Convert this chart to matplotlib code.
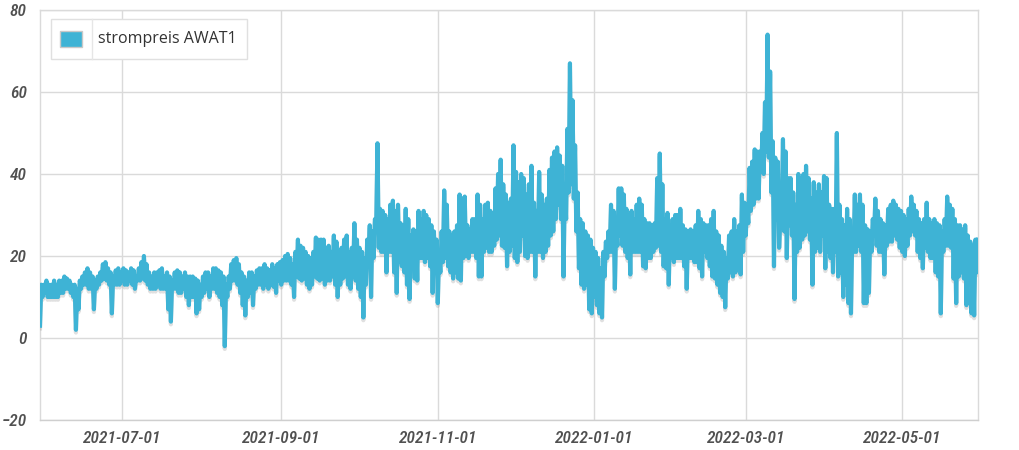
import numpy as np
import pandas as pd
import matplotlib
matplotlib.use("Agg")
import matplotlib.pyplot as plt
import matplotlib.dates as mdates
import matplotlib.patheffects as pe
from matplotlib.patches import Rectangle
from matplotlib import font_manager as fm

# Daily high / low of the price series (start 2021-05-30)
start_date = "2021-05-30"
daily_high = [
    13, 13, 14, 13, 13, 14, 13, 14, 14, 15, 14.5, 14, 13, 13, 12, 14, 15, 16, 17, 16,
    15, 14, 15, 16, 18, 18.5, 17, 16, 15, 16.5, 17, 16, 17, 16.5, 16, 17, 16.5, 15, 17, 18.5,
    20, 18, 16, 15, 16, 16, 16.5, 17, 15, 16, 15, 14, 16, 16.5, 16, 15, 16, 15, 15, 15,
    14.5, 14, 13, 15, 16, 16, 15, 17, 17, 16.5, 16, 15, 13, 15, 18, 19, 19.5, 18, 16, 15,
    14, 16, 16, 15, 16.5, 17, 17, 18, 17, 16.5, 18, 17, 18, 18.5, 19, 20, 20.5, 19.5, 18, 21,
    24, 22.5, 22, 21, 20, 19.5, 21, 24.5, 24, 24, 24, 22, 22.5, 21, 25, 23.5, 21, 22, 24, 25,
    21, 22, 28, 24, 22, 21, 19.5, 24, 27.5, 26, 29, 47.5, 31.5, 31, 30, 29, 32.5, 33.5, 31, 32.5,
    28, 27.5, 31.5, 29, 25, 26.5, 26, 31, 29, 31, 30, 29, 27.5, 26, 24, 21, 26, 36, 32.5, 26,
    25, 26, 27.5, 35, 34, 34.5, 27.5, 26.5, 29, 29, 35, 32.5, 29, 32.5, 33, 31, 27.5, 36.5, 40, 43.5,
    37.5, 35, 33, 34, 47, 40.5, 38, 40, 39, 35, 37.5, 42, 33, 31, 40.5, 35, 32.5, 34, 41, 44,
    45.5, 46.5, 44.5, 42, 37.5, 51, 67, 58, 47, 35.5, 29, 28, 26, 25, 24, 22, 21, 19.5, 17, 21,
    23.5, 26, 32.5, 31, 27.5, 36.5, 36.5, 35, 31.5, 30, 31, 29, 32.5, 34, 32.5, 29, 28, 28, 27.5, 28,
    39, 45, 37.5, 29, 30.5, 27.5, 29, 30, 30, 31.5, 27.5, 26.5, 26, 26.5, 26, 27.5, 31, 29, 28, 27.5,
    27.5, 29, 31, 26, 25, 22.5, 21, 19.5, 25, 26, 29, 26, 27.5, 35, 33, 32.5, 41.5, 43, 46, 45.5,
    45.5, 50, 57.5, 74, 65, 48, 44, 43, 29, 48.5, 45.5, 39, 39, 35.5, 32.5, 40, 39, 40, 42, 39,
    34, 38, 35.5, 37.5, 35.5, 39.5, 39, 32.5, 31.5, 31.5, 50, 32.5, 29, 27.5, 31.5, 29, 25, 35, 32.5, 35,
    32.5, 27.5, 26.5, 26, 29, 34, 31, 29, 28, 27.5, 31.5, 32.5, 33.5, 32.5, 31.5, 31, 30, 29, 31.5, 34.5,
    32.5, 31, 29, 28, 29, 33, 29, 28, 29, 28, 27.5, 26, 29, 34.5, 32.5, 31.5, 29, 27.5, 27.5, 26.5,
    27.5, 25, 23.5, 22.5, 24, 24,
]
daily_low = [
    3, 10, 11, 10, 10, 10, 10, 10, 11, 11, 12, 12, 11, 10, 2, 7, 12, 13, 13, 12,
    12, 7, 12, 13, 14, 14.5, 14, 13, 6, 13, 13, 13, 14, 13, 13, 14, 13, 12, 14, 14,
    14.5, 14, 13, 12, 12, 12, 13, 12, 12, 12, 7, 4, 12, 12, 11, 11, 12, 10, 8, 10,
    10, 6, 7, 10, 11, 12, 10, 12, 12, 11, 10, 8, -2, 10, 12, 14, 14, 13, 11, 8,
    5.5, 10, 11, 8, 12, 13, 13, 12, 13, 12, 13, 12.5, 11, 14, 13, 14, 14, 14, 13, 10,
    15, 14.5, 14, 14.5, 13, 12, 13, 15, 14.5, 14, 14.5, 13, 14, 14, 15, 13, 10, 13, 14.5, 15,
    13, 12, 15, 14, 12, 10, 5, 13, 19.5, 10, 19.5, 27.5, 22, 21, 21, 16, 21, 21, 16, 11,
    18.5, 17.5, 16, 13, 9.5, 19.5, 14.5, 14, 19.5, 19.5, 18.5, 19.5, 17.5, 11, 16, 8.5, 16, 18.5, 19.5, 17.5,
    16, 14.5, 16, 14.5, 14, 19.5, 20, 19.5, 21, 21, 19.5, 15, 15, 21, 22, 21, 21, 22.5, 24, 25,
    22.5, 22, 17.5, 21, 22.5, 19.5, 18.5, 21, 25, 20, 19.5, 21, 21, 15, 21, 21, 19.5, 21, 22.5, 25,
    26, 29, 32.5, 29, 15, 29, 35.5, 37.5, 34, 26, 17, 13, 12, 13, 7, 6, 10, 8, 6, 5,
    15, 19.5, 21, 21, 12, 22.5, 25, 22.5, 21, 19.5, 15.5, 21, 21, 21, 21, 17.5, 17, 19.5, 19.5, 21,
    22, 22.5, 21, 17.5, 17, 13, 19.5, 18.5, 19.5, 19.5, 19.5, 17.5, 12, 19.5, 19.5, 18.5, 18.5, 17, 15, 21,
    19.5, 17.5, 15, 14.5, 13, 11, 10, 7.5, 14.5, 16, 15, 16, 17.5, 15.5, 21, 25, 28, 31, 32.5, 34,
    34, 40.5, 40, 45.5, 44, 35.5, 17.5, 29, 22, 29, 26, 19.5, 27.5, 25, 9.5, 21, 22, 24, 25, 26,
    24, 13, 21, 22, 21, 25, 17, 21, 19.5, 16, 21, 15, 16, 10, 13, 8.5, 6, 21, 21, 22.5,
    21, 8.5, 8.5, 11, 21, 25, 22.5, 21, 21, 15.5, 22.5, 23.5, 23.5, 25, 24, 22, 21, 20, 22.5, 25,
    26, 25, 21, 19.5, 17, 22, 21, 19.5, 19.5, 16, 15, 6, 21, 22.5, 22.5, 22, 14.5, 8.5, 15, 16,
    14.5, 8, 13, 6, 5.5, 16,
]
series_label = "strompreis AWAT1"
y_ticks = [-20, 0, 20, 40, 60, 80]
x_ticks = ["2021-07-01", "2021-09-01", "2021-11-01", "2022-01-01", "2022-03-01", "2022-05-01"]

n = min(len(daily_high), len(daily_low))
days = pd.date_range(start_date, periods=n, freq="D")
times, values = [], []
for i in range(n):
    times.append(days[i])
    values.append(daily_low[i])
    times.append(days[i] + pd.Timedelta(hours=12))
    values.append(daily_high[i])

line_color = "#3EB3D5"
grid_color = "#DADADA"

names = {f.name for f in fm.fontManager.ttflist}
tick_family = [f for f in ["Roboto Condensed", "DejaVu Sans Condensed", "Liberation Sans Narrow"] if f in names] + ["DejaVu Sans"]

fig = plt.figure(figsize=(10.2, 4.5), dpi=100)
ax = fig.add_axes([40 / 1020, 1 - 420 / 450, 938 / 1020, 410 / 450])

ax.plot(times, values, color=line_color, lw=3.0, solid_joinstyle="round",
        path_effects=[pe.SimpleLineShadow(offset=(0, -2), shadow_color="#9a9a9a", alpha=0.3),
                      pe.Normal()], zorder=3)

ax.set_ylim(-20, 80)
ax.set_xlim(times[0], times[-1])
ax.set_yticks(y_ticks)
ax.set_xticks(pd.to_datetime(x_ticks))
ax.xaxis.set_major_formatter(mdates.DateFormatter("%Y-%m-%d"))
ax.grid(True, color=grid_color, lw=1.0, zorder=0)
for s in ax.spines.values():
    s.set_color(grid_color)
    s.set_linewidth(1.0)
ax.spines["bottom"].set_color("#cfcfcf")
ax.tick_params(length=0)
ax.tick_params(axis="x", pad=8)
ax.tick_params(axis="y", pad=9.5)
for lab in ax.get_xticklabels() + ax.get_yticklabels():
    lab.set_fontfamily(tick_family)
    lab.set_fontstretch("condensed")
    lab.set_fontstyle("italic")
    lab.set_fontsize(12.5)
    lab.set_color("#505050")
    lab.set_fontweight("medium")

# legend box (table-like)
lx0, ly0, lw_, lh = 51 / 1020, 1 - 59 / 450, 196 / 1020, 40 / 450
fig.patches.append(Rectangle((lx0, ly0), lw_, lh, transform=fig.transFigure, facecolor="white",
                             edgecolor="#e0e0e0", lw=1.0, zorder=10))
fig.lines.append(plt.Line2D([92 / 1020, 92 / 1020], [ly0, ly0 + lh], transform=fig.transFigure,
                            color="#e6e6e6", lw=1.0, zorder=11))
fig.patches.append(Rectangle((60 / 1020, 1 - 47 / 450), 22 / 1020, 16 / 450, transform=fig.transFigure,
                             facecolor=line_color, edgecolor="#c8c8c8", lw=1.0, zorder=11))
fig.text(98 / 1020, 1 - 39 / 450, series_label, fontsize=11.5, color="#333333",
         family=["Open Sans", "DejaVu Sans"], va="center", ha="left", zorder=12)

fig.savefig("out.png", dpi=100)
